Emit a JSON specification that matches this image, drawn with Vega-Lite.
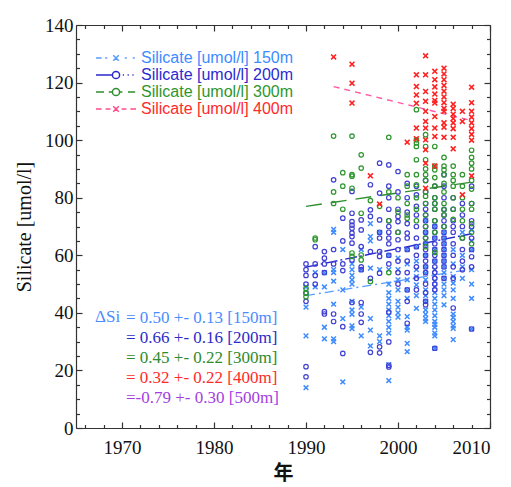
{
  "$schema": "https://vega.github.io/schema/vega-lite/v6.json",
  "width": 414,
  "height": 403,
  "autosize": "none",
  "padding": {"left": 76, "top": 25, "right": 21, "bottom": 59},
  "background": "white",
  "config": {
    "view": {"stroke": null},
    "axis": {
      "grid": false,
      "domainColor": "#333",
      "tickColor": "#333",
      "domainWidth": 1.2,
      "tickWidth": 1.2,
      "labelFont": "Liberation Serif",
      "labelFontSize": 19,
      "labelColor": "#111",
      "titleFont": "Liberation Serif",
      "titleFontSize": 20,
      "titleColor": "#111",
      "titleFontWeight": "normal"
    }
  },
  "datasets": {
    "p150": [
      {"year":1990,"si":49},{"year":1990,"si":42},{"year":1990,"si":32},{"year":1990,"si":14},
      {"year":1991,"si":54},{"year":1991,"si":49},
      {"year":1992,"si":54},{"year":1992,"si":49},{"year":1992,"si":35},{"year":1992,"si":31},
      {"year":1993,"si":69},{"year":1993,"si":68},{"year":1993,"si":55},{"year":1993,"si":54},{"year":1993,"si":51},{"year":1993,"si":43},{"year":1993,"si":31},{"year":1993,"si":30},
      {"year":1994,"si":62},{"year":1994,"si":48},{"year":1994,"si":38},{"year":1994,"si":16},
      {"year":1995,"si":57},{"year":1995,"si":55},{"year":1995,"si":53},{"year":1995,"si":51.5},{"year":1995,"si":50},{"year":1995,"si":44},{"year":1995,"si":41},{"year":1995,"si":39.5},{"year":1995,"si":35.5},{"year":1995,"si":34.5},
      {"year":1996,"si":62},{"year":1996,"si":55},{"year":1996,"si":42},{"year":1996,"si":32},
      {"year":1997,"si":71},{"year":1997,"si":66.5},{"year":1997,"si":65},{"year":1997,"si":55.5},{"year":1997,"si":38},{"year":1997,"si":34},{"year":1997,"si":28.5},
      {"year":1998,"si":68},{"year":1998,"si":55},{"year":1998,"si":32},{"year":1998,"si":30},
      {"year":1999,"si":60},{"year":1999,"si":55},{"year":1999,"si":50},{"year":1999,"si":47},{"year":1999,"si":45},{"year":1999,"si":43},{"year":1999,"si":41},{"year":1999,"si":39},{"year":1999,"si":37},{"year":1999,"si":35},{"year":1999,"si":33},{"year":1999,"si":22},{"year":1999,"si":16.5},
      {"year":2000,"si":59},{"year":2000,"si":55},{"year":2000,"si":51.5},{"year":2000,"si":48},{"year":2000,"si":44},{"year":2000,"si":42},{"year":2000,"si":40},{"year":2000,"si":38.5},
      {"year":2001,"si":62},{"year":2001,"si":57},{"year":2001,"si":51.5},{"year":2001,"si":48},{"year":2001,"si":45},{"year":2001,"si":38.7},{"year":2001,"si":35},{"year":2001,"si":34},{"year":2001,"si":29.4},{"year":2001,"si":26.5},
      {"year":2002,"si":63},{"year":2002,"si":58},{"year":2002,"si":55},{"year":2002,"si":52.6},{"year":2002,"si":49.7},{"year":2002,"si":46},{"year":2002,"si":41.6},
      {"year":2003,"si":72},{"year":2003,"si":68},{"year":2003,"si":64},{"year":2003,"si":60},{"year":2003,"si":56},{"year":2003,"si":53.8},{"year":2003,"si":51.5},{"year":2003,"si":48},{"year":2003,"si":46},{"year":2003,"si":44},{"year":2003,"si":41},{"year":2003,"si":39.5},{"year":2003,"si":38},{"year":2003,"si":37},
      {"year":2004,"si":70},{"year":2004,"si":66},{"year":2004,"si":62},{"year":2004,"si":58},{"year":2004,"si":55},{"year":2004,"si":53},{"year":2004,"si":51},{"year":2004,"si":49},{"year":2004,"si":47},{"year":2004,"si":45},{"year":2004,"si":43},{"year":2004,"si":41},{"year":2004,"si":39},{"year":2004,"si":37},{"year":2004,"si":36},{"year":2004,"si":35},{"year":2004,"si":33},{"year":2004,"si":32},{"year":2004,"si":27.7},
      {"year":2005,"si":68},{"year":2005,"si":66},{"year":2005,"si":64},{"year":2005,"si":62},{"year":2005,"si":60},{"year":2005,"si":58},{"year":2005,"si":56},{"year":2005,"si":54},{"year":2005,"si":52},{"year":2005,"si":50},{"year":2005,"si":48},{"year":2005,"si":46},{"year":2005,"si":42.8},
      {"year":2006,"si":62},{"year":2006,"si":57},{"year":2006,"si":52.6},{"year":2006,"si":50.3},{"year":2006,"si":48},{"year":2006,"si":45},{"year":2006,"si":39.6},{"year":2006,"si":38.4},{"year":2006,"si":37},{"year":2006,"si":35.5},{"year":2006,"si":34.6},{"year":2006,"si":30.7},
      {"year":2007,"si":68},{"year":2007,"si":60},{"year":2007,"si":56},{"year":2007,"si":52},
      {"year":2008,"si":68.8},{"year":2008,"si":65},{"year":2008,"si":61.9},{"year":2008,"si":55},{"year":2008,"si":50},{"year":2008,"si":45},{"year":2008,"si":34.4}
    ],
    "p200": [
      {"year":1990,"si":57},{"year":1990,"si":55},{"year":1990,"si":53},{"year":1990,"si":50},{"year":1990,"si":47},{"year":1990,"si":44},{"year":1990,"si":21.3},{"year":1990,"si":17.8},
      {"year":1991,"si":63},{"year":1991,"si":57},{"year":1991,"si":53},{"year":1991,"si":50},
      {"year":1992,"si":61.3},{"year":1992,"si":59},{"year":1992,"si":57},{"year":1992,"si":54},{"year":1992,"si":40.4},{"year":1992,"si":39.6},
      {"year":1993,"si":86.2},{"year":1993,"si":62},{"year":1993,"si":57},{"year":1993,"si":39.6},{"year":1993,"si":37},
      {"year":1994,"si":72.9},{"year":1994,"si":65},{"year":1994,"si":57},{"year":1994,"si":54.7},{"year":1994,"si":35.2},{"year":1994,"si":25.9},
      {"year":1995,"si":82.2},{"year":1995,"si":74.6},{"year":1995,"si":71.7},{"year":1995,"si":70.5},{"year":1995,"si":69.4},{"year":1995,"si":67.7},{"year":1995,"si":66.5},{"year":1995,"si":64.2},{"year":1995,"si":58.4},{"year":1995,"si":43.6},
      {"year":1996,"si":72.3},{"year":1996,"si":68.8},{"year":1996,"si":63},{"year":1996,"si":56},{"year":1996,"si":55},{"year":1996,"si":43.6},{"year":1996,"si":39.6},{"year":1996,"si":36.7},
      {"year":1997,"si":84.5},{"year":1997,"si":75.8},{"year":1997,"si":73.5},{"year":1997,"si":61.3},{"year":1997,"si":52},{"year":1997,"si":26.3},
      {"year":1998,"si":92},{"year":1998,"si":81.6},{"year":1998,"si":72.3},{"year":1998,"si":68},{"year":1998,"si":66},{"year":1998,"si":61.3},{"year":1998,"si":59.6},{"year":1998,"si":53.8},{"year":1998,"si":28.2},{"year":1998,"si":26.1},
      {"year":1999,"si":91.4},{"year":1999,"si":84},{"year":1999,"si":80},{"year":1999,"si":76},{"year":1999,"si":72},{"year":1999,"si":70},{"year":1999,"si":68},{"year":1999,"si":66},{"year":1999,"si":64},{"year":1999,"si":60},{"year":1999,"si":57},{"year":1999,"si":40.3},{"year":1999,"si":29.9},{"year":1999,"si":21.8},{"year":1999,"si":21.2},
      {"year":2000,"si":89.1},{"year":2000,"si":82},{"year":2000,"si":76},{"year":2000,"si":73.5},{"year":2000,"si":71.7},{"year":2000,"si":68},{"year":2000,"si":65.4},{"year":2000,"si":62},{"year":2000,"si":58},{"year":2000,"si":54},{"year":2000,"si":50},
      {"year":2001,"si":85},{"year":2001,"si":80},{"year":2001,"si":75},{"year":2001,"si":71},{"year":2001,"si":67.7},{"year":2001,"si":66},{"year":2001,"si":62},{"year":2001,"si":58},{"year":2001,"si":54},{"year":2001,"si":48},{"year":2001,"si":44},{"year":2001,"si":36.4},
      {"year":2002,"si":84},{"year":2002,"si":81},{"year":2002,"si":77},{"year":2002,"si":74},{"year":2002,"si":70},{"year":2002,"si":66},{"year":2002,"si":63},{"year":2002,"si":60},{"year":2002,"si":56},{"year":2002,"si":52},{"year":2002,"si":48},
      {"year":2003,"si":86},{"year":2003,"si":82},{"year":2003,"si":78},{"year":2003,"si":76},{"year":2003,"si":74},{"year":2003,"si":72},{"year":2003,"si":70},{"year":2003,"si":68},{"year":2003,"si":66},{"year":2003,"si":64},{"year":2003,"si":62},{"year":2003,"si":60},{"year":2003,"si":58},{"year":2003,"si":56},{"year":2003,"si":54},{"year":2003,"si":50},{"year":2003,"si":47},{"year":2003,"si":44},{"year":2003,"si":42.8},
      {"year":2004,"si":84},{"year":2004,"si":80},{"year":2004,"si":78},{"year":2004,"si":76},{"year":2004,"si":72},{"year":2004,"si":70},{"year":2004,"si":68},{"year":2004,"si":66},{"year":2004,"si":64},{"year":2004,"si":62},{"year":2004,"si":60},{"year":2004,"si":58},{"year":2004,"si":56},{"year":2004,"si":54},{"year":2004,"si":52},{"year":2004,"si":50},{"year":2004,"si":48},{"year":2004,"si":27.7},
      {"year":2005,"si":88},{"year":2005,"si":84},{"year":2005,"si":80},{"year":2005,"si":76},{"year":2005,"si":74},{"year":2005,"si":72},{"year":2005,"si":70},{"year":2005,"si":68},{"year":2005,"si":66},{"year":2005,"si":64},{"year":2005,"si":62},{"year":2005,"si":60},{"year":2005,"si":58},{"year":2005,"si":56},{"year":2005,"si":52},
      {"year":2006,"si":80},{"year":2006,"si":76},{"year":2006,"si":72},{"year":2006,"si":70},{"year":2006,"si":68},{"year":2006,"si":64},{"year":2006,"si":60},{"year":2006,"si":56},{"year":2006,"si":52},{"year":2006,"si":41.7},
      {"year":2007,"si":78},{"year":2007,"si":74},{"year":2007,"si":70},{"year":2007,"si":66},{"year":2007,"si":62},{"year":2007,"si":58},{"year":2007,"si":55},
      {"year":2008,"si":84},{"year":2008,"si":78},{"year":2008,"si":72},{"year":2008,"si":70},{"year":2008,"si":66},{"year":2008,"si":62},{"year":2008,"si":59.5},{"year":2008,"si":56},{"year":2008,"si":34.4}
    ],
    "p300": [
      {"year":1990,"si":48.5},{"year":1990,"si":46.8},{"year":1990,"si":45.6},
      {"year":1991,"si":66},{"year":1991,"si":65.4},
      {"year":1993,"si":101.4},{"year":1993,"si":82},{"year":1993,"si":78},
      {"year":1994,"si":88.7},{"year":1994,"si":84},{"year":1994,"si":76},
      {"year":1995,"si":101.4},{"year":1995,"si":88},{"year":1995,"si":87.5},{"year":1995,"si":83.3},{"year":1995,"si":60.8},{"year":1995,"si":59.6},
      {"year":1996,"si":94.9},{"year":1996,"si":90.3},{"year":1996,"si":74.6},{"year":1996,"si":60.1},{"year":1996,"si":58.4},
      {"year":1997,"si":79},{"year":1997,"si":50.9},
      {"year":1998,"si":77},
      {"year":1999,"si":101},{"year":1999,"si":82},{"year":1999,"si":72},{"year":1999,"si":54},
      {"year":2000,"si":80},{"year":2000,"si":75},{"year":2000,"si":68},
      {"year":2001,"si":88},{"year":2001,"si":84},{"year":2001,"si":78},{"year":2001,"si":74},{"year":2001,"si":72.9},
      {"year":2002,"si":110.6},{"year":2002,"si":100.1},{"year":2002,"si":99},{"year":2002,"si":97.8},{"year":2002,"si":93.2},{"year":2002,"si":88},{"year":2002,"si":84.5},{"year":2002,"si":80},{"year":2002,"si":76},{"year":2002,"si":72},
      {"year":2003,"si":101.9},{"year":2003,"si":97.8},{"year":2003,"si":93.2},{"year":2003,"si":90},{"year":2003,"si":88},{"year":2003,"si":86},{"year":2003,"si":82},{"year":2003,"si":80.5},{"year":2003,"si":78},{"year":2003,"si":74},{"year":2003,"si":70},{"year":2003,"si":66},{"year":2003,"si":63},
      {"year":2004,"si":97.8},{"year":2004,"si":91},{"year":2004,"si":89.7},{"year":2004,"si":87},{"year":2004,"si":84},{"year":2004,"si":80},{"year":2004,"si":78},{"year":2004,"si":76},{"year":2004,"si":72},{"year":2004,"si":68},{"year":2004,"si":61},
      {"year":2005,"si":94},{"year":2005,"si":91},{"year":2005,"si":89.7},{"year":2005,"si":88},{"year":2005,"si":85},{"year":2005,"si":82},{"year":2005,"si":78},{"year":2005,"si":75.8},{"year":2005,"si":74},{"year":2005,"si":70},
      {"year":2006,"si":91},{"year":2006,"si":88},{"year":2006,"si":86},{"year":2006,"si":84},{"year":2006,"si":80},{"year":2006,"si":76},{"year":2006,"si":72.5},
      {"year":2007,"si":88},{"year":2007,"si":84},{"year":2007,"si":80},{"year":2007,"si":76},{"year":2007,"si":72},{"year":2007,"si":66},
      {"year":2008,"si":96.5},{"year":2008,"si":94},{"year":2008,"si":92},{"year":2008,"si":90},{"year":2008,"si":86},{"year":2008,"si":83},{"year":2008,"si":78},{"year":2008,"si":76},{"year":2008,"si":71},{"year":2008,"si":68},{"year":2008,"si":64}
    ],
    "p400": [
      {"year":1993,"si":128.9},
      {"year":1995,"si":126.4},{"year":1995,"si":119.8},{"year":1995,"si":112.9},
      {"year":1997,"si":87.6},
      {"year":1998,"si":77.8},
      {"year":2001,"si":99.3},
      {"year":2002,"si":122.7},{"year":2002,"si":118.6},{"year":2002,"si":115.7},{"year":2002,"si":112.8},{"year":2002,"si":104.2},{"year":2002,"si":100.5},
      {"year":2003,"si":129.3},{"year":2003,"si":122.7},{"year":2003,"si":116.9},{"year":2003,"si":113.5},{"year":2003,"si":110},{"year":2003,"si":106.5},{"year":2003,"si":104.2},{"year":2003,"si":100.1},{"year":2003,"si":96.7},{"year":2003,"si":92},{"year":2003,"si":83.3},
      {"year":2004,"si":123.9},{"year":2004,"si":121},{"year":2004,"si":118.5},{"year":2004,"si":116},{"year":2004,"si":113.8},{"year":2004,"si":112.9},{"year":2004,"si":108.2},{"year":2004,"si":104.2},{"year":2004,"si":101.3},{"year":2004,"si":91},
      {"year":2005,"si":125},{"year":2005,"si":123},{"year":2005,"si":121},{"year":2005,"si":119},{"year":2005,"si":117},{"year":2005,"si":115},{"year":2005,"si":113},{"year":2005,"si":111},{"year":2005,"si":110},{"year":2005,"si":106},{"year":2005,"si":104.5},{"year":2005,"si":101},
      {"year":2006,"si":112.5},{"year":2006,"si":111},{"year":2006,"si":109},{"year":2006,"si":107.5},{"year":2006,"si":106},{"year":2006,"si":104},{"year":2006,"si":101},{"year":2006,"si":97},
      {"year":2007,"si":110},{"year":2007,"si":106.5},{"year":2007,"si":81},
      {"year":2008,"si":118.4},{"year":2008,"si":113},{"year":2008,"si":110},{"year":2008,"si":108},{"year":2008,"si":106},{"year":2008,"si":104},{"year":2008,"si":102},{"year":2008,"si":100},{"year":2008,"si":87.6}
    ],
    "trend": [
      {"depth":"150m","year":1990,"si":46},{"depth":"150m","year":2008,"si":55.2},
      {"depth":"200m","year":1990,"si":55.9},{"depth":"200m","year":2008,"si":67.5},
      {"depth":"300m","year":1990,"si":77},{"depth":"300m","year":2008,"si":85.4},
      {"depth":"400m","year":1993,"si":118.6},{"depth":"400m","year":2008,"si":106.8}
    ],
    "series": [
      {"series":"Silicate [umol/l] 150m"},
      {"series":"Silicate [umol/l] 200m"},
      {"series":"Silicate [umol/l] 300m"},
      {"series":"Silicate [umol/l] 400m"}
    ],
    "stats": [
      {"stat":"= 0.50 +- 0.13 [150m]"},
      {"stat":"= 0.66 +- 0.16 [200m]"},
      {"stat":"= 0.45 +- 0.22 [300m]"},
      {"stat":"= 0.32 +- 0.22 [400m]"},
      {"stat":"=-0.79 +- 0.30 [500m]"}
    ]
  },
  "resolve": {"axis": {"x": "independent", "y": "independent"}},
  "layer": [
    {
      "data": {"name": "trend"},
      "mark": {"type": "line", "strokeWidth": 1.4},
      "encoding": {
        "x": {"field": "year", "type": "quantitative", "scale": {"domain": [1965, 2010], "nice": false, "zero": false}, "axis": null},
        "y": {"field": "si", "type": "quantitative", "scale": {"domain": [0, 140], "nice": false}, "axis": null},
        "color": {"field": "depth", "type": "nominal", "scale": {"domain": ["150m", "200m", "300m", "400m"], "range": ["#5a9cff", "#2a2acc", "#2f8f2f", "#ff5aa5"]}, "legend": null},
        "strokeDash": {"field": "depth", "type": "nominal", "scale": {"domain": ["150m", "200m", "300m", "400m"], "range": [[9, 4, 2, 4], [12, 3, 2, 3], [16, 9], [6, 5]]}, "legend": null}
      }
    },
    {
      "data": {"name": "p150"},
      "mark": {"type": "point", "shape": "M-1,-1L1,1M-1,1L1,-1", "filled": false, "stroke": "#3f8cff", "strokeWidth": 1.5, "size": 22, "opacity": 1},
      "encoding": {
        "x": {"field": "year", "type": "quantitative", "scale": {"domain": [1965, 2010], "nice": false, "zero": false},
              "axis": {"orient": "bottom", "values": [1970, 1980, 1990, 2000, 2010], "format": "d", "tickSize": -6, "labelPadding": 16, "title": "年", "titleFont": "Noto Sans CJK JP", "titleFontSize": 20, "titleFontWeight": "bold", "titlePadding": 6}},
        "y": {"field": "si", "type": "quantitative", "scale": {"domain": [0, 140], "nice": false},
              "axis": {"orient": "left", "values": [0, 20, 40, 60, 80, 100, 120, 140], "tickSize": -6, "labelPadding": 9, "title": "Silicate [umol/l]", "titlePadding": 10}}
      }
    },
    {
      "data": {"name": "p200"},
      "mark": {"type": "point", "shape": "circle", "filled": false, "stroke": "#4040d4", "strokeWidth": 1.2, "size": 20, "opacity": 1},
      "encoding": {
        "x": {"field": "year", "type": "quantitative", "scale": {"domain": [1965, 2010], "nice": false, "zero": false},
              "axis": {"orient": "bottom", "values": [1966, 1968, 1972, 1974, 1976, 1978, 1982, 1984, 1986, 1988, 1992, 1994, 1996, 1998, 2002, 2004, 2006, 2008], "tickSize": -3.5, "labels": false, "domain": false, "title": null}},
        "y": {"field": "si", "type": "quantitative", "scale": {"domain": [0, 140], "nice": false},
              "axis": {"orient": "left", "values": [5, 10, 15, 25, 30, 35, 45, 50, 55, 65, 70, 75, 85, 90, 95, 105, 110, 115, 125, 130, 135], "tickSize": -3.5, "labels": false, "domain": false, "title": null}}
      }
    },
    {
      "data": {"name": "p300"},
      "mark": {"type": "point", "shape": "circle", "filled": false, "stroke": "#2e962e", "strokeWidth": 1.2, "size": 20, "opacity": 1},
      "encoding": {
        "x": {"field": "year", "type": "quantitative", "scale": {"domain": [1965, 2010], "nice": false, "zero": false},
              "axis": {"orient": "top", "values": [1970, 1980, 1990, 2000, 2010], "tickSize": -6, "labels": false, "title": null}},
        "y": {"field": "si", "type": "quantitative", "scale": {"domain": [0, 140], "nice": false},
              "axis": {"orient": "right", "values": [0, 20, 40, 60, 80, 100, 120, 140], "tickSize": -6, "labels": false, "title": null}}
      }
    },
    {
      "data": {"name": "p400"},
      "mark": {"type": "point", "shape": "M-1,-1L1,1M-1,1L1,-1", "filled": false, "stroke": "#ff2222", "strokeWidth": 1.6, "size": 24, "opacity": 1},
      "encoding": {
        "x": {"field": "year", "type": "quantitative", "scale": {"domain": [1965, 2010], "nice": false, "zero": false},
              "axis": {"orient": "top", "values": [1966, 1968, 1972, 1974, 1976, 1978, 1982, 1984, 1986, 1988, 1992, 1994, 1996, 1998, 2002, 2004, 2006, 2008], "tickSize": -3.5, "labels": false, "domain": false, "title": null}},
        "y": {"field": "si", "type": "quantitative", "scale": {"domain": [0, 140], "nice": false},
              "axis": {"orient": "right", "values": [5, 10, 15, 25, 30, 35, 45, 50, 55, 65, 70, 75, 85, 90, 95, 105, 110, 115, 125, 130, 135], "tickSize": -3.5, "labels": false, "domain": false, "title": null}}
      }
    },
    {
      "data": {"name": "series"},
      "mark": {"type": "point", "filled": false, "opacity": 0},
      "encoding": {
        "stroke": {"field": "series", "type": "nominal", "sort": null,
                   "scale": {"domain": ["Silicate [umol/l] 150m", "Silicate [umol/l] 200m", "Silicate [umol/l] 300m", "Silicate [umol/l] 400m"], "range": ["#5a9cff", "#2a2acc", "#2f8f2f", "#ff4a8a"]},
                   "legend": {"orient": "none", "legendX": 19, "legendY": 24, "title": null, "labelFont": "Liberation Sans", "labelFontSize": 16, "labelColor": {"expr": "indexof(datum.label, '150m') >= 0 ? '#3d8cff' : indexof(datum.label, '200m') >= 0 ? '#2b2bd0' : indexof(datum.label, '300m') >= 0 ? '#2e962e' : '#ff2a2a'"}, "symbolSize": 256, "symbolStrokeWidth": 1.5, "symbolOpacity": 1, "labelOffset": 28, "rowPadding": 0, "labelLimit": 300}},
        "shape": {"field": "series", "type": "nominal", "sort": null,
                  "scale": {"domain": ["Silicate [umol/l] 150m", "Silicate [umol/l] 200m", "Silicate [umol/l] 300m", "Silicate [umol/l] 400m"], "range": [
                    "M-1,0H-0.3M0.15,0H0.4M1.15,-0.35L1.85,0.35M1.15,0.35L1.85,-0.35M2.6,0H2.85M3.6,0H3.85",
                    "M-1,0H1.05M1.95,0A0.45,0.45 0 1,1 1.05,0A0.45,0.45 0 1,1 1.95,0M2.35,0H2.5M2.95,0H3.1M3.55,0H3.7",
                    "M-1,0H0M0.6,0H1.05M1.95,0A0.45,0.45 0 1,1 1.05,0A0.45,0.45 0 1,1 1.95,0M1.95,0H2.3M3,0H3.9",
                    "M-1,0H-0.3M0.2,0H0.8M1.15,-0.35L1.85,0.35M1.15,0.35L1.85,-0.35M2.2,0H2.8M3.3,0H4"]},
                  "legend": {"orient": "none", "legendX": 19, "legendY": 24, "title": null, "labelFont": "Liberation Sans", "labelFontSize": 16, "labelColor": {"expr": "indexof(datum.label, '150m') >= 0 ? '#3d8cff' : indexof(datum.label, '200m') >= 0 ? '#2b2bd0' : indexof(datum.label, '300m') >= 0 ? '#2e962e' : '#ff2a2a'"}, "symbolSize": 256, "symbolStrokeWidth": 1.5, "symbolOpacity": 1, "labelOffset": 28, "rowPadding": 0, "labelLimit": 300}}
      }
    },
    {
      "data": {"name": "stats"},
      "mark": {"type": "point", "opacity": 0},
      "encoding": {
        "fill": {"field": "stat", "type": "nominal", "sort": null,
                 "scale": {"domain": ["= 0.50 +- 0.13 [150m]", "= 0.66 +- 0.16 [200m]", "= 0.45 +- 0.22 [300m]", "= 0.32 +- 0.22 [400m]", "=-0.79 +- 0.30 [500m]"],
                           "range": ["#4a8cff", "#2c2cc8", "#2e8b2e", "#ff2a2a", "#a23ee0"]},
                 "legend": {"orient": "none", "legendX": 19, "legendY": 284, "title": "ΔSi", "titleOrient": "left", "titleAnchor": "start", "titleBaseline": "top", "titleColor": "#4a8cff", "titleFont": "Liberation Serif", "titleFontSize": 17, "titleFontWeight": "normal", "titlePadding": 4, "labelFont": "Liberation Serif", "labelFontSize": 17, "labelColor": {"expr": "indexof(datum.label, '150m') >= 0 ? '#4a8cff' : indexof(datum.label, '200m') >= 0 ? '#2c2cc8' : indexof(datum.label, '300m') >= 0 ? '#2e8b2e' : indexof(datum.label, '400m') >= 0 ? '#ff2a2a' : '#a23ee0'"}, "symbolSize": 1, "symbolOpacity": 0, "symbolStrokeWidth": 0, "labelOffset": -16, "rowPadding": 2, "labelLimit": 400}}
      }
    }
  ]
}
